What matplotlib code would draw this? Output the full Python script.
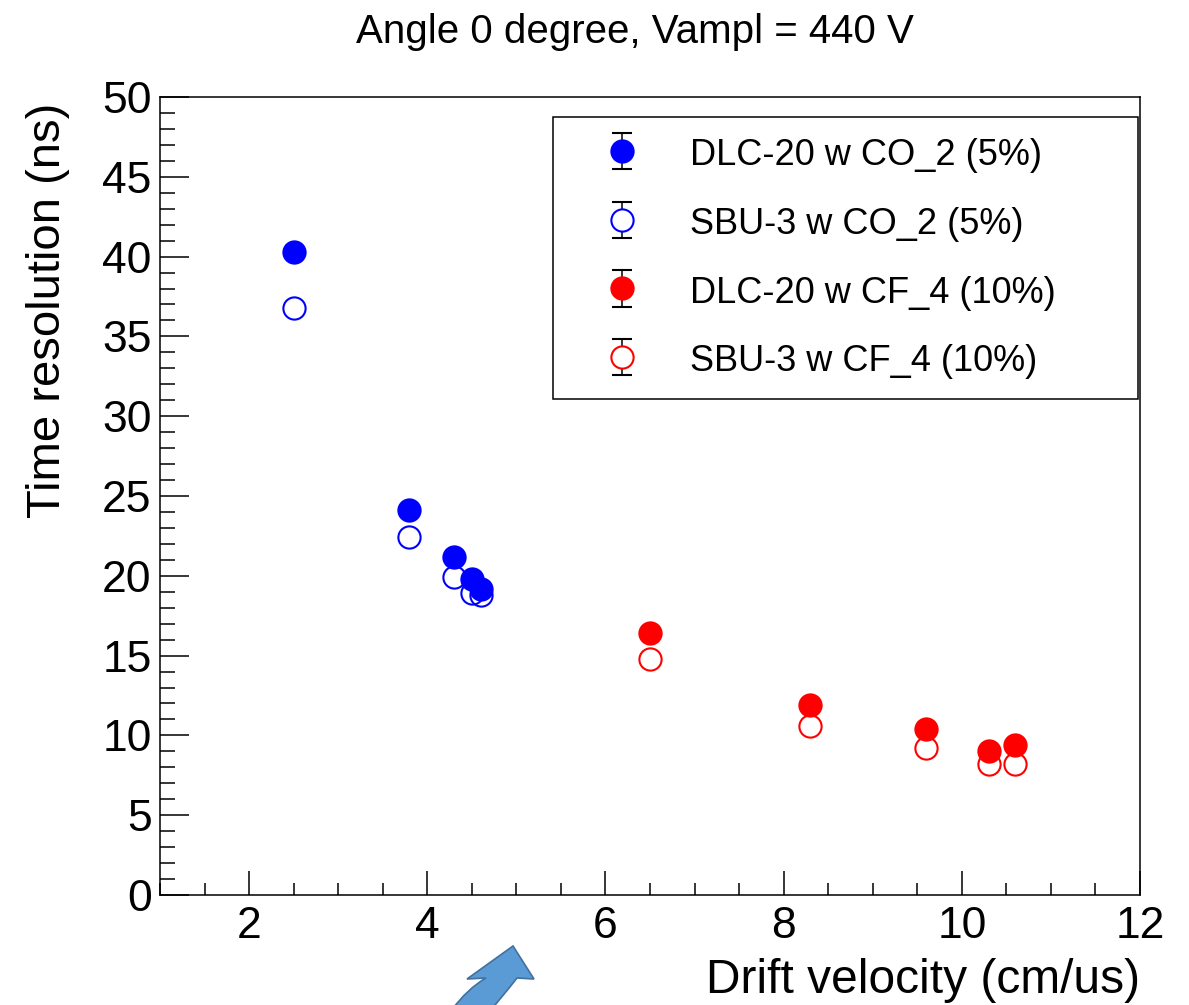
import numpy as np
import matplotlib
matplotlib.use("Agg")
import matplotlib.pyplot as plt
from matplotlib.lines import Line2D
from matplotlib.path import Path
from matplotlib.patches import PathPatch
from matplotlib.ticker import MultipleLocator

plt.rcParams['font.family'] = ['Liberation Sans', 'DejaVu Sans']

# ---------------- data ----------------
title = "Angle 0 degree, Vampl = 440 V"
x_label = "Drift velocity (cm/us)"
y_label = "Time resolution (ns)"

co2_velocity = [2.5, 3.8, 4.3, 4.5, 4.6]
dlc20_co2 = [40.3, 24.1, 21.2, 19.8, 19.2]
sbu3_co2 = [36.8, 22.4, 19.9, 18.9, 18.8]

cf4_velocity = [6.5, 8.3, 9.6, 10.3, 10.6]
dlc20_cf4 = [16.4, 11.9, 10.4, 9.0, 9.4]
sbu3_cf4 = [14.8, 10.6, 9.2, 8.2, 8.2]

series_labels = ["DLC-20 w CO_2 (5%)", "SBU-3 w CO_2 (5%)",
                 "DLC-20 w CF_4 (10%)", "SBU-3 w CF_4 (10%)"]

x_ticks = [2, 4, 6, 8, 10, 12]
y_ticks = [0, 5, 10, 15, 20, 25, 30, 35, 40, 45, 50]

# ---------------- figure ----------------
W, H = 1189, 1005
fig = plt.figure(figsize=(W / 100, H / 100), dpi=100)
ax = fig.add_axes([160 / W, 1 - 895 / H, 980 / W, 798 / H])

BLUE = "#0000ff"
RED = "#ff0000"


def draw(x, y, color, filled, z):
    return ax.errorbar(x, y, yerr=np.zeros(len(y)), fmt='o', ms=16,
                       mfc=color if filled else 'none', mec=color, mew=1.5,
                       ecolor='black', elinewidth=1.1, capsize=7, capthick=1.1,
                       zorder=z)


h_sbu_co2 = draw(co2_velocity, sbu3_co2, BLUE, False, 3)
h_sbu_cf4 = draw(cf4_velocity, sbu3_cf4, RED, False, 3)
h_dlc_co2 = draw(co2_velocity, dlc20_co2, BLUE, True, 4)
h_dlc_cf4 = draw(cf4_velocity, dlc20_cf4, RED, True, 4)

ax.set_xlim(1, 12)
ax.set_ylim(0, 50)
ax.set_xticks(x_ticks)
ax.set_yticks(y_ticks)
ax.xaxis.set_minor_locator(MultipleLocator(0.5))
ax.yaxis.set_minor_locator(MultipleLocator(1))

ax.tick_params(axis='both', which='both', direction='in', width=1.1,
               top=False, right=False, labelsize=32)
ax.tick_params(axis='x', which='major', length=17, pad=8)
ax.tick_params(axis='x', which='minor', length=8.5)
ax.tick_params(axis='y', which='major', length=21, pad=6)
ax.tick_params(axis='y', which='minor', length=10.5)
for s in ax.spines.values():
    s.set_linewidth(1.1)

ax.set_xlabel(x_label, fontsize=34.5, ha='right', va='baseline')
ax.xaxis.set_label_coords(1.0, -(993 - 895) / 798)
ax.set_ylabel(y_label, fontsize=34, ha='right', va='baseline')
ax.yaxis.set_label_coords(-(160 - 60) / 980, 1 - 6 / 798)

fig.text(635 / W, 1 - 43 / H, title, fontsize=29, ha='center', va='baseline')

leg = fig.legend([h_dlc_co2, h_sbu_co2, h_dlc_cf4, h_sbu_cf4], series_labels,
                 loc='upper left',
                 bbox_to_anchor=(553 / W, 1 - 393 / H, 585 / W, 276 / H),
                 mode='expand', borderaxespad=0, fontsize=26,
                 fancybox=False, edgecolor='black', framealpha=1,
                 borderpad=0.55, handlelength=2.73, handletextpad=0.52,
                 labelspacing=0.89, handleheight=1.0)
leg.get_frame().set_linewidth(1.1)

# open legend markers hide the error bar behind them
for ln in leg.findobj(Line2D):
    if ln.get_marker() == 'o' and ln.get_markerfacecolor() == 'none':
        ln.set_markerfacecolor('white')

# hide zero-length error bars in the plot (legend keeps its own copies)
for c in (h_sbu_co2, h_sbu_cf4, h_dlc_co2, h_dlc_cf4):
    for cap in c[1]:
        cap.set_visible(False)
    for bl in c[2]:
        bl.set_visible(False)

# decorative curved blue arrow at the bottom
pts = [(450, 1012), (468, 988), (486, 978), (467, 979), (513, 946),
       (534, 979), (517, 978), (503, 996), (489, 1012), (450, 1012)]
codes = [Path.MOVETO, Path.CURVE3, Path.CURVE3, Path.LINETO, Path.LINETO,
         Path.LINETO, Path.LINETO, Path.CURVE3, Path.CURVE3, Path.CLOSEPOLY]
verts = [(px / W, 1 - py / H) for px, py in pts]
arrow = PathPatch(Path(verts, codes), facecolor='#5b9bd5', edgecolor='#41719c',
                  lw=1.2, transform=fig.transFigure, clip_on=False)
fig.patches.append(arrow)

fig.savefig("out.png", dpi=100)
